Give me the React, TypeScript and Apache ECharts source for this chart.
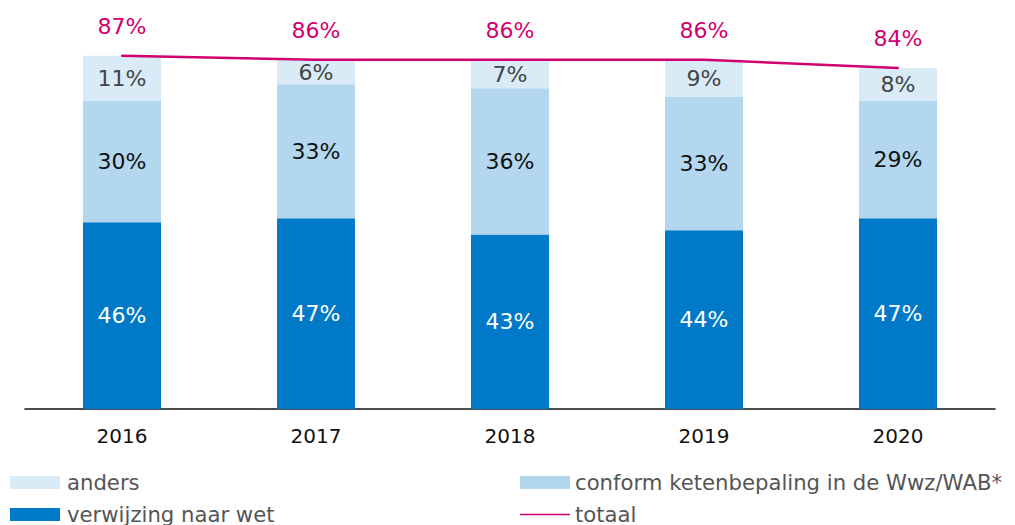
import React, { useEffect, useRef } from "react";
import * as echarts from "echarts";

const categories = ["2016", "2017", "2018", "2019", "2020"];
const verwijzing = [46, 47, 43, 44, 47];
const conform = [30, 33, 36, 33, 29];
const anders = [11, 6, 7, 9, 8];
const totaal = [87, 86, 86, 86, 84];

const FONT = "DejaVu Sans";
const MAGENTA = "#D0006F";

export default function App() {
  const ref = useRef<HTMLDivElement>(null);
  useEffect(() => {
    if (!ref.current) return;
    const chart = echarts.init(ref.current, undefined, { renderer: "svg" });
    const lbl = (color: string) => ({
      show: true,
      position: "inside" as const,
      formatter: "{c}%",
      color,
      fontFamily: FONT,
      fontSize: 22,
    });
    const leg = (name: string, left: number, top: number, pad: number, extra: any = {}) => ({
      orient: "horizontal" as const,
      left,
      top,
      itemWidth: 50,
      itemHeight: 13,
      padding: 0,
      icon: "rect",
      textStyle: { color: "#555", fontFamily: FONT, fontSize: 21.2, padding: [0, 0, 0, pad] },
      data: [{ name, ...extra }],
    });
    chart.setOption({
      animation: false,
      grid: { left: 25, right: 20, top: 3, bottom: 116 },
      xAxis: {
        type: "category",
        data: categories,
        axisLine: { lineStyle: { color: "#111", width: 1.5 } },
        axisTick: { show: false },
        axisLabel: { color: "#111", fontFamily: FONT, fontSize: 20, margin: 17 },
      },
      yAxis: { type: "value", min: 0, max: 100, show: false, splitLine: { show: false } },
      legend: [
        leg("anders", 10, 472, 2),
        leg("verwijzing naar wet", 10, 504, 2),
        leg("conform ketenbepaling in de Wwz/WAB*", 520, 472, 0),
        leg("totaal", 520, 504, 0, {
          icon: "path://M0,6 L50,6 L50,7.6 L0,7.6 Z",
          itemStyle: { color: MAGENTA },
        }),
      ],
      series: [
        {
          name: "verwijzing naar wet",
          type: "bar",
          stack: "a",
          data: verwijzing,
          barWidth: 78,
          itemStyle: { color: "#0079C8" },
          label: lbl("#ffffff"),
        },
        {
          name: "conform ketenbepaling in de Wwz/WAB*",
          type: "bar",
          stack: "a",
          data: conform,
          barWidth: 78,
          itemStyle: { color: "#B3D7EF" },
          label: lbl("#111111"),
        },
        {
          name: "anders",
          type: "bar",
          stack: "a",
          data: anders,
          barWidth: 78,
          itemStyle: { color: "#D9EBF7" },
          label: lbl("#444444"),
        },
        {
          name: "totaal",
          type: "line",
          data: totaal,
          symbol: "circle",
          symbolSize: 2,
          showSymbol: true,
          z: 5,
          lineStyle: { color: MAGENTA, width: 2.5 },
          itemStyle: { color: MAGENTA },
          label: {
            show: true,
            position: "top",
            distance: 17,
            formatter: "{c}%",
            color: MAGENTA,
            fontFamily: FONT,
            fontSize: 22,
          },
        },
      ],
    });
    return () => chart.dispose();
  }, []);
  return (
    <div
      ref={ref}
      style={{ position: "absolute", left: 0, top: 0, width: 1015, height: 525, background: "#fff" }}
    />
  );
}
